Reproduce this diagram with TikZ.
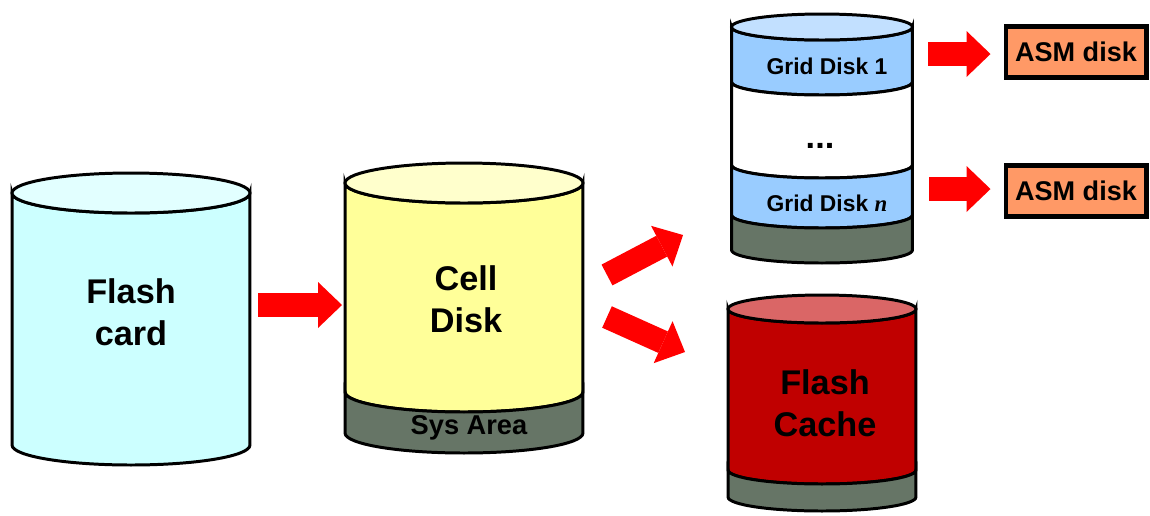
\documentclass[tikz,border=0pt]{standalone}
\usepackage{fontspec}
\setmainfont{Liberation Sans}
\newfontfamily\serifit{Liberation Serif}
\usetikzlibrary{arrows.meta}

\definecolor{cardcyan}{HTML}{CCFFFF}
\definecolor{cardtop}{HTML}{E2FFFF}
\definecolor{cellyellow}{HTML}{FFFF99}
\definecolor{celltop}{HTML}{FFFFCC}
\definecolor{sysgray}{HTML}{667566}
\definecolor{gridblue}{HTML}{99CCFF}
\definecolor{gridtop}{HTML}{C2E0FF}
\definecolor{cachered}{HTML}{C00000}
\definecolor{cachetop}{HTML}{DA6666}
\definecolor{asmorange}{HTML}{FF9966}

\tikzset{
	drum/.style={draw=black, line width=1.7pt},
	bigtext/.style={font=\bfseries\fontsize{19.5}{24}\selectfont, align=center},
	bandtext/.style={font=\bfseries\fontsize{13}{15}\selectfont},
	systext/.style={font=\bfseries\fontsize{15.5}{18}\selectfont},
	asmbox/.style={draw=black, line width=2.3pt, fill=asmorange, minimum width=2.82cm, minimum height=1.02cm, inner sep=0pt, font=\bfseries\fontsize{15.4}{18}\selectfont},
	redarrow/.style={draw=red, line width=0.47cm, -{Triangle[width=0.92cm, length=0.48cm, line width=0pt]}}
}

% one band of a drum: cx, y top, rx, ry, y bottom, colour
\newcommand{\band}[6]{\filldraw[drum,fill=#6] ([xshift=-#3]#1,#2) arc[start angle=180,end angle=360,x radius=#3,y radius=#4] -- ([xshift=#3]#1,#5) arc[start angle=0,end angle=-180,x radius=#3,y radius=#4] -- cycle;}
% the lid of a drum: cx, cy, rx, ry, colour
\newcommand{\lid}[5]{\filldraw[drum,fill=#5] (#1,#2) ellipse[x radius=#3,y radius=#4];}

\begin{document}
\begin{tikzpicture}[x=0.02cm,y=-0.02cm]
	\useasboundingbox (0,0) rectangle (1150,515);
	%\draw[lightgray] (0,0) grid[step=50] (1150,515);

	% Flash card
	\band{131}{193}{2.38cm}{0.4cm}{445}{cardcyan}
	\lid{131}{193}{2.38cm}{0.4cm}{cardtop}
	\node[bigtext] (flash) at (131,312) {Flash\\card};

	% Cell Disk
	\band{464}{183}{2.38cm}{0.4cm}{392}{cellyellow}
	\band{464}{392}{2.38cm}{0.4cm}{433}{sysgray}
	\lid{464}{183}{2.38cm}{0.4cm}{celltop}
	\node[bigtext] (cell) at (466,299) {Cell\\Disk};
	\node[systext] (sys) at (469,428) {Sys Area};

	% Grid Disks
	\band{822}{27}{1.81cm}{0.26cm}{82}{gridblue}
	\band{822}{82}{1.81cm}{0.26cm}{165}{white}
	\band{822}{165}{1.81cm}{0.26cm}{215}{gridblue}
	\band{822}{215}{1.81cm}{0.26cm}{250}{sysgray}
	\lid{822}{27}{1.81cm}{0.26cm}{gridtop}
	\node[bandtext] (grid1) at (827,66) {Grid Disk 1};
	\node[bigtext] (dots) at (820,146) {...};
	\node[bandtext] (gridn) at (827,203) {Grid Disk {\serifit\itshape n}};

	% Flash Cache
	\band{822}{309}{1.88cm}{0.28cm}{470}{cachered}
	\band{822}{470}{1.88cm}{0.28cm}{497}{sysgray}
	\lid{822}{309}{1.88cm}{0.28cm}{cachetop}
	\node[bigtext] (cache) at (825,403) {Flash\\Cache};

	% ASM disks
	\node[asmbox] (asm1) at (1076,52) {ASM disk};
	\node[asmbox] (asmn) at (1076,191) {ASM disk};

	% arrows
	\coordinate (a1) at (258,305);
	\coordinate (a2) at (607,275);
	\coordinate (a2e) at (683,235);
	\coordinate (a3) at (607,317);
	\coordinate (a3e) at (685,352);
	\coordinate (a4) at (928,54);
	\coordinate (a5) at (929,189);
	\draw[redarrow] (a1) -- (342,305);
	\draw[redarrow] (a2) -- (a2e);
	\draw[redarrow] (a3) -- (a3e);
	\draw[redarrow, shorten >=0.26cm] (a4) -- (a4 -| asm1.west);
	\draw[redarrow, shorten >=0.26cm] (a5) -- (a5 -| asmn.west);
\end{tikzpicture}
\end{document}
